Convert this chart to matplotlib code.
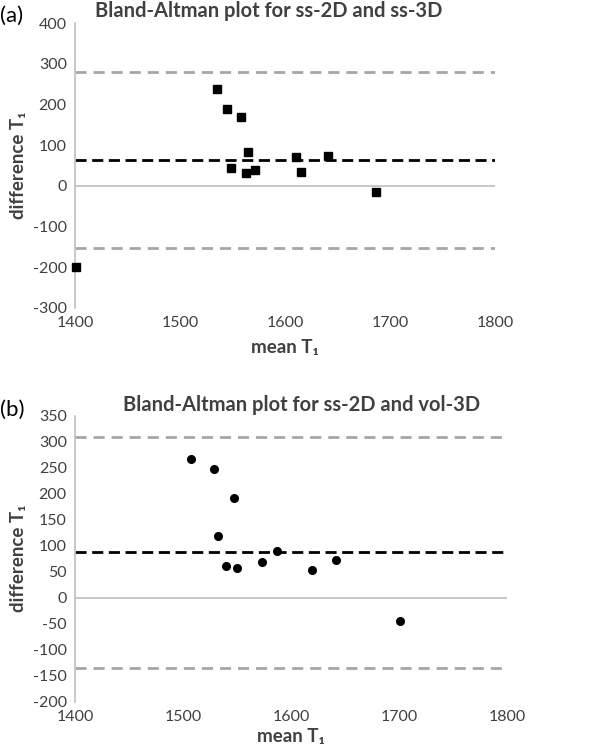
import matplotlib.pyplot as plt

# panel (a): ss-2D vs ss-3D
mean_a = [1401, 1535, 1545, 1558, 1565, 1548, 1563, 1571, 1610, 1615, 1641, 1686]
diff_a = [-199, 238, 190, 170, 84, 45, 31, 38, 71, 34, 73, -14]
bias_a = 63
loa_a = [281, -154]

# panel (b): ss-2D vs vol-3D
mean_b = [1507, 1529, 1547, 1532, 1540, 1550, 1573, 1587, 1619, 1642, 1701]
diff_b = [267, 247, 192, 119, 62, 58, 69, 89, 54, 73, -44]
bias_b = 88
loa_b = [310, -135]

FONT = ['Lato', 'DejaVu Sans']
TICK_C = '#404040'
GRID_C = '#bfbfbf'

plt.rcParams['axes.unicode_minus'] = False


def draw(ax, x, y, bias, loa, marker, ylim, yticks, title, tag, fig, title_x, title_y, xpad):
    ax.set_xlim(1400, 1800)
    ax.set_ylim(*ylim)
    ax.set_xticks([1400, 1500, 1600, 1700, 1800])
    ax.set_yticks(yticks)
    for s in ['top', 'right', 'bottom']:
        ax.spines[s].set_visible(False)
    ax.spines['left'].set_color(GRID_C)
    ax.spines['left'].set_linewidth(1.2)
    ax.axhline(0, color=GRID_C, lw=1.2, zorder=1)
    for v in loa:
        ax.axhline(v, color='#a6a6a6', lw=2, ls=(0, (4, 2.5)), zorder=2)
    ax.axhline(bias, color='black', lw=2, ls=(0, (4, 2)), zorder=2)
    ax.plot(x, y, marker, color='black', ms=5.5, ls='none', zorder=3, clip_on=False)
    ax.tick_params(length=0, labelsize=11.5, colors=TICK_C, pad=6)
    for lab in ax.get_xticklabels() + ax.get_yticklabels():
        lab.set_family(FONT)
    fig.text(title_x, title_y, title, fontsize=14.5, fontweight='bold', color='#404040',
             family=FONT, ha='center', va='center')
    ax.set_xlabel('mean T₁', fontsize=13.5, fontweight='bold', color='#404040', family=FONT, labelpad=xpad)
    ax.set_ylabel('difference T₁', fontsize=13.5, fontweight='bold', color='#404040', family=FONT, labelpad=4)
    fig.text(0.0, title_y - 0.006, tag, fontsize=16, color='black', family=FONT, va='center')


fig = plt.figure(figsize=(6.16, 7.49), dpi=100)
ax1 = fig.add_axes([0.122, 0.589, 0.682, 0.38])
ax2 = fig.add_axes([0.122, 0.063, 0.701, 0.382])

draw(ax1, mean_a, diff_a, bias_a, loa_a, 's', (-300, 400), list(range(-300, 401, 100)),
     'Bland-Altman plot for ss-2D and ss-3D', '(a)', fig, 0.436, 0.985, 6)
draw(ax2, mean_b, diff_b, bias_b, loa_b, 'o', (-200, 350), list(range(-200, 351, 50)),
     'Bland-Altman plot for ss-2D and vol-3D', '(b)', fig, 0.49, 0.459, 3)

fig.savefig('out.png', dpi=100)
